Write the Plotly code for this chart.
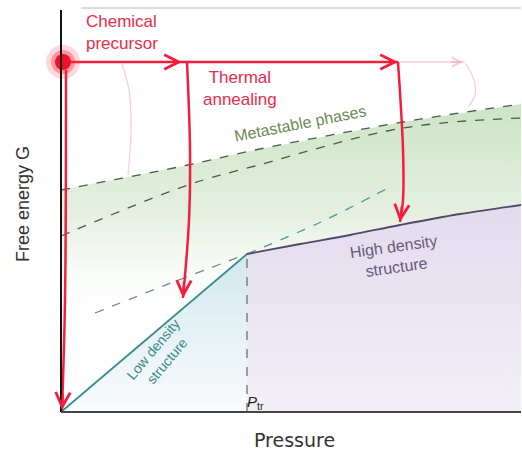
import plotly.graph_objects as go

# ---- schematic data (arbitrary units: pressure P, free energy G) ----
ld_p = [0, 186]                      # low density structure (solid)
ld_g = [0, 158]
hd_p = [186, 239, 289, 339, 399, 460]  # high density structure (solid)
hd_g = [158, 168, 177, 187, 198, 207]
ld_ext_p = [186, 260, 329]           # low density, metastable extension (dashed)
ld_ext_g = [158, 190, 225]
hd_ext_p = [34, 110, 186]            # high density, metastable extension (dashed)
hd_ext_g = [99, 129, 158]
meta1_p = [0, 127, 194, 342, 460]    # metastable phases, upper
meta1_g = [222, 247, 262, 290, 308]
meta2_p = [0, 127, 194, 342, 460]    # metastable phases, lower
meta2_g = [176, 227, 246, 284, 294]
p_tr = 186
g_precursor = 350

# red process paths
path_left_p = [5, 4, 1]
path_left_g = [342, 112, 2]
path_mid_p = [126, 129, 128, 122]
path_mid_g = [350, 262, 192, 114]
path_right_p = [337, 342, 342, 339]
path_right_g = [350, 262, 212, 190]
faint_left_p = [61, 68, 70, 67]
faint_left_g = [348, 322, 282, 237]
faint_right_p = [405, 413, 414, 407]
faint_right_g = [348, 332, 317, 305]

RED = "#f41e3c"
FAINT = "rgba(240,110,130,0.35)"

fig = go.Figure()

# green metastable region
gp = meta1_p + hd_p[::-1] + ld_p[::-1]
gg = meta1_g + hd_g[::-1] + ld_g[::-1]
fig.add_trace(go.Scatter(x=gp, y=gg, fill="toself", mode="none",
    fillgradient=dict(type="vertical", start=80, stop=310,
        colorscale=[[0, "rgba(255,255,255,0)"], [0.5, "rgba(230,240,226,1)"], [1, "rgba(204,228,196,1)"]]),
    hoverinfo="skip", showlegend=False))
# low density triangle
fig.add_trace(go.Scatter(x=[0, p_tr, p_tr, 0], y=[0, 158, 0, 0], fill="toself", mode="none",
    fillgradient=dict(type="vertical", start=0, stop=158,
        colorscale=[[0, "rgba(250,252,253,1)"], [1, "rgba(210,231,237,1)"]]),
    hoverinfo="skip", showlegend=False))
# high density region
fig.add_trace(go.Scatter(x=hd_p + [460, p_tr], y=hd_g + [0, 0], fill="toself", mode="none",
    fillgradient=dict(type="vertical", start=0, stop=207,
        colorscale=[[0, "rgba(242,239,247,1)"], [1, "rgba(226,219,237,1)"]]),
    hoverinfo="skip", showlegend=False))

def line(x, y, color, width, dash="solid"):
    fig.add_trace(go.Scatter(x=x, y=y, mode="lines", line=dict(color=color, width=width, dash=dash, shape="spline"),
                             hoverinfo="skip", showlegend=False, cliponaxis=False))

line(meta1_p, meta1_g, "#4d5a4d", 1.3, "dash")
line(meta2_p, meta2_g, "#4d5a4d", 1.3, "dash")
line(hd_ext_p, hd_ext_g, "#7a8a8a", 1.3, "dash")
line(ld_ext_p, ld_ext_g, "#4a9a94", 1.3, "dash")
line([p_tr, p_tr], [0, 158], "#666666", 1.2, "dash")
line(ld_p, ld_g, "#3c8c8a", 1.8)
line(hd_p, hd_g, "#54476a", 1.8)

# faint arcs
line(faint_left_p, faint_left_g, FAINT, 1.2)
line([337, 404], [g_precursor, g_precursor], FAINT, 1.5)
line(faint_right_p, faint_right_g, FAINT, 1.2)

# red process arrows
line([0, 337], [g_precursor, g_precursor], RED, 2.5)
line(path_left_p, path_left_g, RED, 2.5)
line(path_mid_p, path_mid_g, RED, 2.5)
line(path_right_p, path_right_g, RED, 2.5)

# precursor dot with glow
fig.add_trace(go.Scatter(x=[2], y=[g_precursor], mode="markers",
    marker=dict(size=34, color="rgba(255,40,60,0.18)", line=dict(width=0)), hoverinfo="skip", showlegend=False, cliponaxis=False))
fig.add_trace(go.Scatter(x=[2], y=[g_precursor], mode="markers",
    marker=dict(size=24, color="rgba(255,30,50,0.35)", line=dict(width=0)), hoverinfo="skip", showlegend=False, cliponaxis=False))
fig.add_trace(go.Scatter(x=[2], y=[g_precursor], mode="markers",
    marker=dict(size=16, color="#f01028", line=dict(width=0)), hoverinfo="skip", showlegend=False, cliponaxis=False))

anns = []
def head(x, y, ax, ay, color=RED, w=2.2):
    anns.append(dict(x=x, y=y, ax=ax, ay=ay, xref="x", yref="y", axref="x", ayref="y", text=" ",
                     font=dict(size=1), showarrow=True, arrowhead=5, arrowsize=1.3, arrowwidth=w,
                     arrowcolor=color, standoff=0))

head(121, g_precursor, 105, g_precursor)
head(337, g_precursor, 321, g_precursor)
head(402, g_precursor, 388, g_precursor, FAINT, 1.4)
head(path_left_p[-1], path_left_g[-1], 2, 20)
head(path_mid_p[-1], path_mid_g[-1], 123, 132)
head(path_right_p[-1], path_right_g[-1], 341, 208)

FONT = "Liberation Sans, Arial, sans-serif"
def txt(x, y, s, color, size, angle=0, xanchor="center", align="center", family=FONT):
    anns.append(dict(x=x, y=y, xref="x", yref="y", text=s, showarrow=False, textangle=angle,
                     font=dict(family=family, size=size, color=color), xanchor=xanchor, align=align))

txt(23, 380, "Chemical<br>precursor", "#ee2a4a", 17, xanchor="left", align="left")
txt(179, 324, "Thermal<br>annealing", "#ee2a4a", 17)
txt(239, 289, "Metastable phases", "#6a8a5a", 16, angle=-11)
txt(334, 155, "High density<br>structure", "#6a5a7a", 16, angle=-8)
txt(99, 57, "Low density<br>structure", "#3c8c8a", 14, angle=-50)
txt(194, 10, "<i>P</i><sub>tr</sub>", "#222222", 15)

anns.append(dict(x=(294 - 55) / 466, y=(453 - 35 - 440) / 413, xref="paper", yref="paper", yanchor="middle",
                 text="Pressure", showarrow=False, font=dict(family="DejaVu Sans, sans-serif", size=19, color="#333333")))
anns.append(dict(x=(23 - 55) / 466, y=(418 - 204) / 413, xref="paper", yref="paper", xanchor="center", yanchor="middle",
                 text="Free energy G", showarrow=False, textangle=-90,
                 font=dict(family=FONT, size=18, color="#333333")))

shapes = [
    dict(type="line", xref="x", yref="y", x0=0, y0=0, x1=0, y1=402, line=dict(color="#111111", width=2)),
    dict(type="line", xref="x", yref="y", x0=0, y0=0, x1=460, y1=0, line=dict(color="#444444", width=2)),
    dict(type="line", xref="x", yref="y", x0=20, y0=404, x1=460, y1=404, line=dict(color="#d0d0d0", width=1.5)),
]

fig.update_layout(
    width=522, height=453,
    margin=dict(l=55, r=1, t=5, b=35),
    paper_bgcolor="white", plot_bgcolor="white",
    xaxis=dict(range=[-6, 460], visible=False, fixedrange=True),
    yaxis=dict(range=[-6, 407], visible=False, fixedrange=True),
    annotations=anns, shapes=shapes, showlegend=False,
)
fig.write_html("out.html", config={"displayModeBar": False},
               post_script="document.body.style.margin='0px';document.body.style.overflow='hidden';")
